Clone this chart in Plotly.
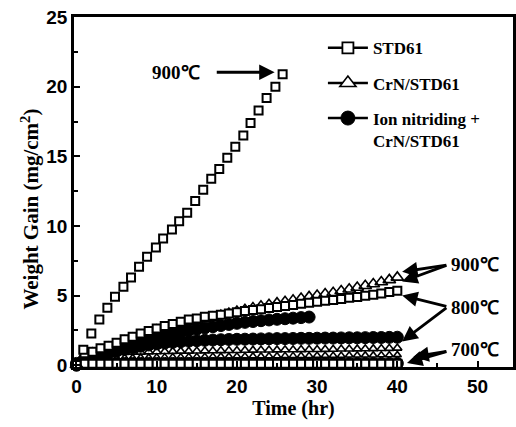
import plotly.graph_objects as go

# ---- data ----
hours = list(range(0, 41))

std61_900_x = [0, 0.85, 1.85, 2.85, 3.85, 4.8, 5.85, 6.8, 7.8, 8.8, 9.9, 10.8, 11.9, 12.8, 13.8,
               14.8, 15.8, 16.8, 17.8, 18.8, 19.8, 20.8, 21.7, 22.7, 23.7, 24.8, 25.7]
std61_900_y = [0, 1.1, 2.27, 3.28, 4.12, 4.91, 5.63, 6.3, 7.06, 7.78, 8.45, 9.1, 9.75, 10.34, 10.94,
               11.8, 12.6, 13.4, 14.1, 14.9, 15.7, 16.5, 17.4, 18.3, 19.2, 20.0, 20.9]

std61_800_y = [0, 0.85, 0.96, 1.2, 1.39, 1.6, 1.85, 2.03, 2.27, 2.44, 2.63, 2.8, 2.95, 3.11, 3.28,
               3.35, 3.47, 3.54, 3.62, 3.71, 3.79, 3.88, 3.95, 4.02, 4.1, 4.17, 4.24, 4.31, 4.4,
               4.48, 4.55, 4.62, 4.68, 4.75, 4.83, 4.9, 4.98, 5.06, 5.15, 5.25, 5.35]

std61_700_y = [0.1] * 41

crn_900_y = [0, 0.7, 0.85, 1.05, 1.25, 1.45, 1.7, 1.9, 2.1, 2.3, 2.5, 2.65, 2.8, 2.95, 3.1,
             3.2, 3.32, 3.42, 3.55, 3.7, 3.85, 3.98, 4.1, 4.22, 4.33, 4.45, 4.55, 4.65, 4.78,
             4.9, 5.0, 5.1, 5.2, 5.32, 5.45, 5.57, 5.7, 5.83, 5.97, 6.12, 6.3]

crn_800_y = [0, 0.5, 0.7, 0.8, 0.85, 0.88, 0.9, 0.92, 0.93, 0.95, 0.96, 0.97, 0.98, 1.0, 1.0,
             1.01, 1.02, 1.03, 1.04, 1.05, 1.05, 1.06, 1.07, 1.08, 1.08, 1.09, 1.1, 1.1, 1.11,
             1.12, 1.12, 1.13, 1.14, 1.15, 1.15, 1.16, 1.17, 1.18, 1.19, 1.2, 1.22]

crn_700_y = [0, 0.3, 0.4, 0.45, 0.5, 0.5, 0.52, 0.53, 0.55, 0.55, 0.56, 0.57, 0.58, 0.58, 0.6,
             0.6, 0.6, 0.61, 0.62, 0.62, 0.63, 0.63, 0.64, 0.64, 0.65, 0.65, 0.66, 0.66, 0.67,
             0.67, 0.68, 0.68, 0.69, 0.69, 0.7, 0.7, 0.71, 0.71, 0.72, 0.72, 0.73]

ion_900_x = list(range(0, 30))
ion_900_y = [0, 0.3, 0.55, 0.75, 0.95, 1.12, 1.28, 1.44, 1.6, 1.75, 1.9, 2.05, 2.2, 2.35, 2.48,
             2.58, 2.67, 2.76, 2.84, 2.92, 3.0, 3.07, 3.13, 3.19, 3.24, 3.29, 3.33, 3.37, 3.41, 3.45]

ion_800_y = [0, 0.2, 0.45, 0.65, 0.85, 1.0, 1.12, 1.24, 1.35, 1.44, 1.52, 1.58, 1.63, 1.68, 1.72,
             1.75, 1.78, 1.8, 1.82, 1.84, 1.85, 1.86, 1.87, 1.88, 1.89, 1.9, 1.9, 1.91, 1.92,
             1.92, 1.93, 1.94, 1.94, 1.95, 1.96, 1.96, 1.97, 1.98, 1.98, 1.99, 2.0]

ion_700_y = [0.12] * 41

legend_names = ["STD61", "CrN/STD61", "Ion nitriding +<br>CrN/STD61"]
y_title = "Weight Gain (mg/cm<sup>2</sup>)"
x_title = "Time (hr)"

SERIF = "Liberation Serif"
SANS = "Liberation Sans"

fig = go.Figure()

def circles(x, y):
    fig.add_trace(go.Scatter(x=x, y=y, mode="markers", showlegend=False, cliponaxis=False,
                             marker=dict(symbol="circle", size=12, color="black",
                                         line=dict(color="black", width=1))))

def tris(x, y, size):
    fig.add_trace(go.Scatter(x=x, y=y, mode="markers", showlegend=False, cliponaxis=False,
                             marker=dict(symbol="triangle-up-open", size=size, color="black",
                                         line=dict(color="black", width=1.6))))

def squares(x, y):
    fig.add_trace(go.Scatter(x=x, y=y, mode="markers", showlegend=False, cliponaxis=False,
                             marker=dict(symbol="square", size=8, color="white",
                                         line=dict(color="black", width=2))))

circles(ion_900_x, ion_900_y)
circles(hours, ion_800_y)
circles(hours, ion_700_y)
tris(hours, crn_700_y, 7)
tris(hours, crn_800_y, 8)
squares(hours, std61_700_y)
tris(hours, crn_900_y, 11)
squares(hours, std61_800_y)
squares(std61_900_x, std61_900_y)

# legend entries
leg_symbols = [dict(symbol="square", size=11, color="white", line=dict(color="black", width=1.8)),
               dict(symbol="triangle-up", size=14, color="white", line=dict(color="black", width=1.6)),
               dict(symbol="circle", size=14, color="black", line=dict(color="black", width=1))]
for i, (nm, mk) in enumerate(zip(legend_names, leg_symbols)):
    fig.add_trace(go.Scatter(x=[None], y=[None], mode="lines+markers", name=nm,
                             legendgroup=f"g{i}", line=dict(color="black", width=2.5),
                             marker=mk))

afont = dict(family=SERIF, size=19, color="black", weight="bold")

def label(x, y, text):
    fig.add_annotation(x=x, y=y, text=text, showarrow=False, font=afont,
                       xanchor="left", yanchor="middle")

def arrow(x, y, ax, ay):
    fig.add_annotation(x=x, y=y, ax=ax, ay=ay, axref="x", ayref="y", text="",
                       showarrow=True, arrowhead=2, arrowsize=1.1, arrowwidth=2.8,
                       arrowcolor="black")

# top label
label(9.2, 21.05, "900℃")
arrow(24.7, 21.05, 17.3, 21.05)
# right labels
label(46.5, 7.2, "900℃")
arrow(40.6, 6.7, 46.3, 7.2)
arrow(40.6, 6.0, 46.3, 7.2)
label(46.5, 4.15, "800℃")
arrow(40.6, 5.0, 46.3, 4.2)
arrow(40.6, 1.7, 46.3, 4.2)
label(46.5, 1.1, "700℃")
arrow(41.2, 0.15, 46.3, 1.0)
arrow(42.0, 0.6, 46.3, 1.0)

# y-axis title placed a little below the plot centre, as in the original
fig.add_annotation(x=-0.1, y=0.45, xref="paper", yref="paper", text=y_title, textangle=-90,
                   showarrow=False, xanchor="center", yanchor="middle",
                   font=dict(family=SERIF, size=21, color="black", weight="bold"))

axis_common = dict(showline=True, linecolor="black", linewidth=2.5, mirror=True,
                   ticks="inside", ticklen=6, tickwidth=2, tickcolor="black",
                   showgrid=False, zeroline=False, automargin=False,
                   tickfont=dict(family=SANS, size=19, color="black", weight="bold"))

fig.update_xaxes(range=[-0.31, 54.42], tickvals=[0, 10, 20, 30, 40, 50],
                 minor=dict(ticks="inside", ticklen=4, tickwidth=1.5, tickcolor="black", dtick=5),
                 title=dict(text=x_title, font=dict(family=SERIF, size=20, color="black", weight="bold"),
                            standoff=5),
                 **axis_common)
fig.update_yaxes(range=[-0.14, 25.02], tickvals=[0, 5, 10, 15, 20, 25],
                 minor=dict(ticks="inside", ticklen=4, tickwidth=1.5, tickcolor="black", dtick=2.5),
                 **axis_common)

fig.update_layout(
    width=516, height=427,
    margin=dict(l=74, r=3, t=17, b=60),
    paper_bgcolor="white", plot_bgcolor="white",
    legend=dict(x=0.567, y=0.962, xanchor="left", yanchor="top",
                font=dict(family=SERIF, size=17, color="black", weight="bold"),
                bgcolor="rgba(0,0,0,0)", itemwidth=40, valign="top",
                traceorder="grouped", tracegroupgap=10),
)

# remove the default page margin so the figure sits at the window's top-left corner
fig.write_html("out.html", config={"displayModeBar": False},
               post_script="document.body.style.margin='0';document.body.style.overflow='hidden';")
